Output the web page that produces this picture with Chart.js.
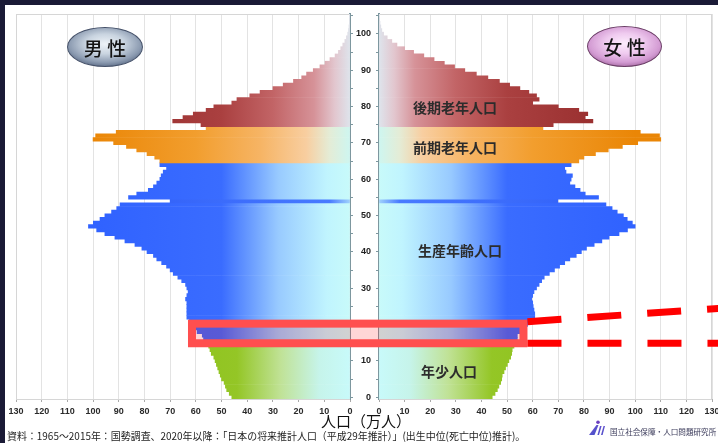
<!DOCTYPE html>
<html lang="ja">
<head>
<meta charset="utf-8">
<title>人口ピラミッド</title>
<script src="https://cdn.jsdelivr.net/npm/chart.js@4.4.1/dist/chart.umd.min.js"></script>
<style>
  html, body { margin: 0; padding: 0; }
  body {
    width: 718px; height: 443px; overflow: hidden; position: relative;
    background: #1a1a36;
    font-family: "Noto Sans CJK JP", "Noto Sans", sans-serif;
  }
  #panel { position: absolute; left: 5px; top: 5px; width: 713px; height: 438px; background: #fff; }
  canvas { position: absolute; left: 0; top: 0; }
  .txt { position: absolute; white-space: nowrap; z-index: 5; }
  .badge {
    position: absolute; z-index: 5; box-sizing: border-box; border-radius: 50%;
    display: flex; align-items: center; justify-content: center;
    font-size: 19px; font-weight: 500; color: #141414; line-height: 1;
  }
  .badge.male {
    background: radial-gradient(ellipse 62% 62% at 50% 42%, #eef3f8 0%, #c9d4e0 42%, #8c9bb1 78%, #5b6b85 100%);
    border: 1.5px solid #46526a;
  }
  .badge.female {
    background: radial-gradient(ellipse 62% 62% at 50% 42%, #fcecfc 0%, #efcaef 42%, #d39bd3 78%, #a66aa3 100%);
    border: 1.5px solid #6a3e66;
  }
  .region { font-size: 14px; font-weight: 700; color: #2c2c2c; line-height: 14px; }
</style>
</head>
<body>
<div id="panel"></div>
<canvas id="maleChart" width="718" height="443" style="width:718px;height:443px"></canvas>
<canvas id="femaleChart" width="718" height="443" style="width:718px;height:443px"></canvas>

<div class="badge male" style="left:67px;top:27px;width:76px;height:40px">男 性</div>
<div class="badge female" style="left:587px;top:26px;width:75px;height:41px">女 性</div>

<div class="txt region" style="left:413px;top:100px">後期老年人口</div>
<div class="txt region" style="left:413px;top:140px">前期老年人口</div>
<div class="txt region" style="left:418px;top:243px">生産年齢人口</div>
<div class="txt region" style="left:421px;top:364px">年少人口</div>

<div class="txt" style="left:316px;top:412px;width:100px;text-align:center;font-size:15px;line-height:17px;color:#111">人口（万人）</div>
<div id="source" class="txt" style="left:7px;top:430px;font-size:10.5px;line-height:12px;color:#1e1e1e;transform-origin:0 50%">資料：1965～2015年：国勢調査、2020年以降：「日本の将来推計人口（平成29年推計）」(出生中位(死亡中位)推計)。</div>

<svg style="position:absolute;left:588px;top:420px;z-index:5" width="20" height="16" viewBox="0 0 20 16">
  <defs>
    <linearGradient id="lg" x1="0" y1="0" x2="1" y2="1">
      <stop offset="0" stop-color="#7a4fd0"/><stop offset="1" stop-color="#3b52c8"/>
    </linearGradient>
  </defs>
  <circle cx="10" cy="2.2" r="1.8" fill="#6a3fc0"/>
  <path d="M8.5 5 L10.5 5 L6.5 15 L1 15 Z" fill="url(#lg)"/>
  <path d="M12 6 L13.6 6 L11 15 L9.4 15 Z" fill="url(#lg)"/>
  <path d="M15.5 6 L17 6 L14.6 15 L13 15 Z" fill="url(#lg)"/>
</svg>
<div class="txt" style="left:610px;top:427px;font-size:7.6px;line-height:10px;color:#3a3a5a">国立社会保障・人口問題研究所</div>

<script>
// ---- categories: single years of age, 0 (bottom) to 105 (top) ----
const ages = Array.from({ length: 106 }, (_, i) => i);

// ---- population by single year of age, 10 thousand persons ----
const male = [
  46, 47, 48, 48.5, 49, 50, 50.5, 51, 51.5, 52,            // 0-9
  52.5, 53, 54, 54.5, 55, 56, 57, 57.5, 59.5, 60,          // 10-19
  61, 62.5, 63.5, 63.5, 63.5, 63.5, 63.5, 64, 63.5, 63,    // 20-29
  63.5, 64, 65.5, 67, 68.8, 70, 71.4, 73.3, 75.2, 76.5,    // 30-39
  79, 81, 83.7, 87.6, 91.5, 95.4, 98.6, 101.8, 99.9, 97.3, // 40-49
  95.4, 92.8, 90.8, 89.5, 70, 86.2, 83, 78.5, 76.5, 75.2,  // 50-59
  74, 73.5, 72.7, 71.4, 74, 74, 76, 79, 83, 87,            // 60-69
  92, 100, 99, 91, 56, 58, 69, 65, 61, 56,                 // 70-79
  53, 46, 44, 39, 35, 30, 26, 22, 18.8, 16.9,              // 80-89
  14.3, 11.7, 9.7, 7.8, 5.8, 4.5, 3.6, 2.8, 2.0, 1.4,      // 90-99
  0.9, 0.6, 0.4, 0.25, 0.15, 0.1                           // 100-105
];
const female = [
  44.2, 45.3, 46.2, 46.8, 47.5, 47.9, 48.1, 48.8, 49.4, 50.1, // 0-9
  50.7, 51.4, 51.8, 52, 52.7, 53, 54, 54, 55.3, 55.5,         // 10-19
  58, 59.5, 60.8, 60.8, 60.5, 60.2, 60, 59.6, 60, 60.5,       // 20-29
  61.5, 62.5, 63.5, 64.5, 66.5, 68.5, 70.5, 72.5, 74.5, 77,   // 30-39
  79, 81, 84, 87, 89.8, 93.7, 97, 100, 98.9, 96.9,            // 40-49
  95.4, 93, 91, 88.6, 69.8, 85.7, 80.5, 78.5, 76.5, 74.5,     // 50-59
  75, 75.5, 73, 72.5, 75, 78, 80, 84.5, 89.5, 95,             // 60-69
  101, 110, 109.5, 102, 64, 68, 83.5, 80.5, 81.5, 78,         // 70-79
  70, 60, 62.5, 61.5, 58.5, 55, 51, 47, 42.5, 38,             // 80-89
  33.5, 29.5, 25.5, 21.5, 17.5, 13.5, 10, 7, 5, 3.2,          // 90-99
  1.8, 1.1, 0.7, 0.4, 0.2, 0.1                                // 100-105
];

// ---- x axis ticks (万人) ----
const xMax = 130;
const xStep = 10;

// ---- age brackets ----
const youngMax = 14, workingMax = 64, earlyMax = 74;
const thinCohortAge = 54;   // the narrow 1966 birth cohort

// ---- colour ramps along the value axis: [value, colour] ----
const RAMPS = {
  young:   [[0, 'rgb(200,250,250)'], [12, 'rgb(198,244,234)'], [27, 'rgb(192,226,150)'], [44, 'rgb(148,198,38)'], [100, 'rgb(134,188,16)']],
  working: [[0, 'rgb(200,250,250)'], [9, 'rgb(192,244,254)'], [28, 'rgb(152,202,255)'], [50, 'rgb(58,108,255)'], [100, 'rgb(48,98,255)']],
  thin:    [[0, 'rgb(160,210,252)'], [8, 'rgb(72,122,255)'], [100, 'rgb(44,90,246)']],
  early:   [[0, 'rgb(206,246,240)'], [8, 'rgb(228,236,214)'], [17, 'rgb(248,206,160)'], [35, 'rgb(246,180,100)'], [60, 'rgb(242,158,46)'], [100, 'rgb(234,134,6)']],
  late:    [[0, 'rgb(222,228,236)'], [6, 'rgb(226,198,206)'], [14, 'rgb(214,146,152)'], [30, 'rgb(194,100,102)'], [50, 'rgb(170,64,64)'], [100, 'rgb(146,40,40)']]
};

function bracketOf(age) {
  if (age === thinCohortAge) return 'thin';
  if (age <= youngMax) return 'young';
  if (age <= workingMax) return 'working';
  if (age <= earlyMax) return 'early';
  return 'late';
}

function barFill(context) {
  const chart = context.chart;
  const area = chart.chartArea;
  if (!area) return 'rgb(48,98,255)';
  const key = bracketOf(chart.data.labels[context.dataIndex]);
  chart.$fills = chart.$fills || {};
  const id = key + '|' + area.left + '|' + area.right;
  if (!chart.$fills[id]) {
    const xs = chart.scales.x;
    const g = chart.ctx.createLinearGradient(xs.getPixelForValue(0), 0, xs.getPixelForValue(100), 0);
    RAMPS[key].forEach(([v, c]) => g.addColorStop(v / 100, c));
    chart.$fills[id] = g;
  }
  return chart.$fills[id];
}

const AXIS_COLOR = '#7d979f';
const GRID_COLOR = '#e3e3e3';
const TICK_FONT = { family: '"Liberation Sans", Arial, sans-serif', size: 9, weight: 'bold' };

// light frame around each plot area
const plotFrame = {
  id: 'plotFrame',
  beforeDatasetsDraw(chart) {
    const { ctx, chartArea: a } = chart;
    ctx.save();
    ctx.strokeStyle = '#d6d6d6';
    ctx.lineWidth = 1;
    ctx.strokeRect(a.left + 0.5, a.top + 0.5, a.right - a.left - 1, a.bottom - a.top);
    ctx.restore();
  }
};

function xAxis(reverse) {
  return {
    type: 'linear', min: 0, max: xMax, reverse,
    ticks: { stepSize: xStep, color: '#2a2a2a', font: TICK_FONT, padding: 4, maxRotation: 0 },
    grid: { color: GRID_COLOR, tickColor: '#a8a8a8', tickLength: 3, lineWidth: 1 },
    border: { color: '#b0b0b0', width: 1 },
    afterFit(s) { s.height = 20; s.paddingLeft = 0; s.paddingRight = 0; }
  };
}

function ageAxis(position, showLabels) {
  return {
    type: 'category', position, reverse: true, offset: true,
    ticks: {
      display: showLabels, autoSkip: false, maxRotation: 0, padding: 5,
      color: '#222', font: TICK_FONT,
      callback(value, index) { const a = ages[index]; return a % 10 === 0 ? String(a) : ''; }
    },
    grid: {
      drawOnChartArea: false, drawTicks: true, tickLength: 3, offset: false,
      tickColor: (c) => (c.index % 5 === 0 ? AXIS_COLOR : 'rgba(0,0,0,0)'),
      color: 'rgba(0,0,0,0)', tickWidth: 1.2
    },
    border: { color: AXIS_COLOR, width: 2 },
    afterFit(s) { s.width = showLabels ? 23 : 3; s.paddingTop = 0; s.paddingBottom = 0; }
  };
}

function barDataset(label, data) {
  return {
    label, data,
    backgroundColor: barFill,
    borderWidth: 0,
    barPercentage: 1,
    categoryPercentage: 1
  };
}

const common = {
  responsive: false,
  animation: false,
  indexAxis: 'y',
  devicePixelRatio: 1,
  plugins: { legend: { display: false }, tooltip: { enabled: false } }
};

const maleChart = new Chart(document.getElementById('maleChart'), {
  type: 'bar',
  data: { labels: ages, datasets: [barDataset('男性', male)] },
  options: {
    ...common,
    layout: { padding: { left: 16, top: 14, right: 365, bottom: 24 } },
    scales: { x: xAxis(true), y: ageAxis('right', false) }
  },
  plugins: [plotFrame]
});

// highlighted cohort (ages 17-19) with a frame across both halves, and the pointer lines
const highlight = {
  id: 'highlight',
  afterDatasetsDraw(chart) {
    const { ctx } = chart;
    const ys = chart.scales.y;
    const band = Math.abs(ys.getPixelForValue(1) - ys.getPixelForValue(0));
    const base = ys.getPixelForValue(0) + band / 2;
    const yAt = (a) => base - a * band;
    const top = yAt(20.75), bottom = yAt(15.35);
    const left = maleChart.scales.x.getPixelForValue(61.5);
    const right = chart.scales.x.getPixelForValue(56.4);
    ctx.save();
    ctx.fillStyle = 'rgba(255,0,0,0.16)';
    ctx.fillRect(left, top, right - left, bottom - top);
    ctx.strokeStyle = '#ff4f4f';
    ctx.lineWidth = 8;
    ctx.strokeRect(left, top, right - left, bottom - top);

    ctx.strokeStyle = '#ff0000';
    ctx.lineWidth = 7;
    ctx.setLineDash([34, 26]);
    ctx.beginPath();
    ctx.moveTo(right + 4, top - 2);
    ctx.lineTo(chart.width + 4, top - 15.5);
    ctx.stroke();
    ctx.beginPath();
    ctx.moveTo(right + 4, bottom);
    ctx.lineTo(chart.width + 4, bottom);
    ctx.stroke();
    ctx.restore();
  }
};

const femaleChart = new Chart(document.getElementById('femaleChart'), {
  type: 'bar',
  data: { labels: ages, datasets: [barDataset('女性', female)] },
  options: {
    ...common,
    layout: { padding: { left: 356, top: 14, right: 6, bottom: 24 } },
    scales: { x: xAxis(false), y: ageAxis('left', true) }
  },
  plugins: [plotFrame, highlight]
});

// fit the source note to its line
const src = document.getElementById('source');
const fitSource = () => { src.style.transform = 'scaleX(' + (518 / src.scrollWidth) + ')'; };
fitSource();
if (document.fonts && document.fonts.ready) document.fonts.ready.then(fitSource);
</script>
</body>
</html>
